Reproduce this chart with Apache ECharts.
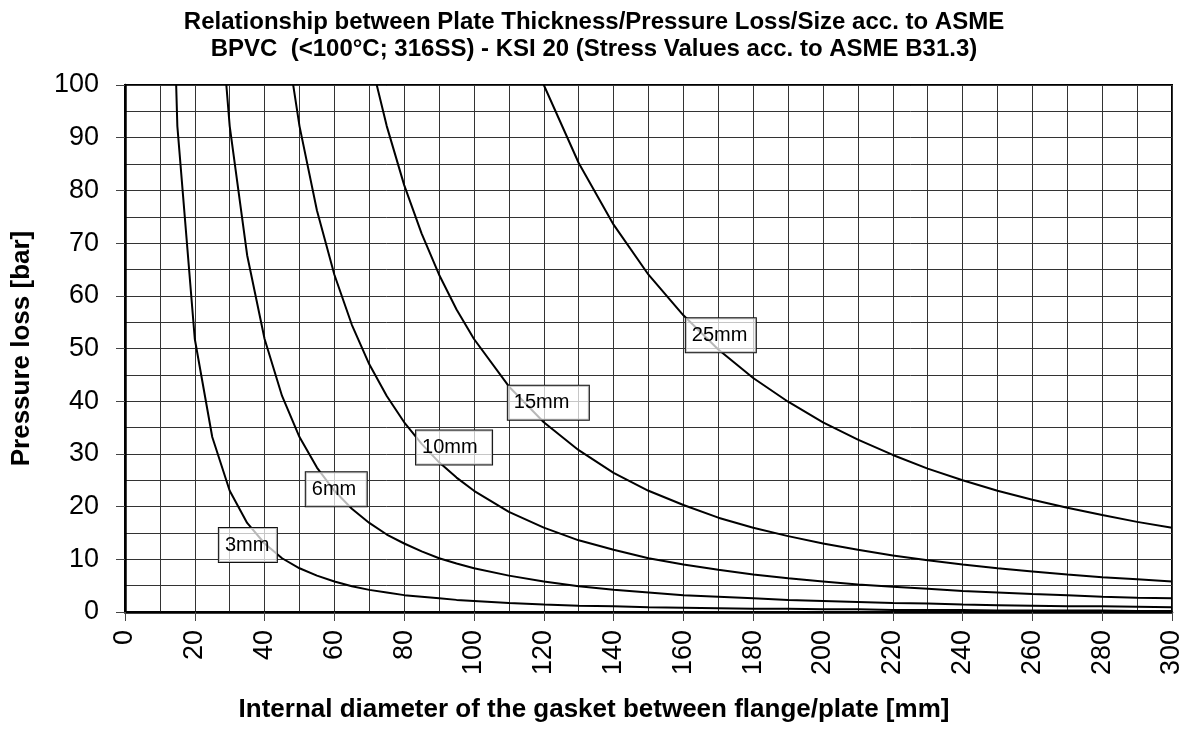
<!DOCTYPE html>
<html>
<head>
<meta charset="utf-8">
<script src="https://cdn.jsdelivr.net/npm/echarts@6/dist/echarts.min.js"></script>
<style>
  html, body { margin: 0; padding: 0; background: #fff; }
  #chart1 { width: 1188px; height: 729px; }
</style>
</head>
<body>
<div id="chart1"></div>
<script>
// internal diameter [mm]
var diameters = [5, 10, 15, 20, 25, 30, 35, 40, 45, 50, 55, 60, 65, 70, 75, 80, 85, 90, 95, 100,
    110, 120, 130, 140, 150, 160, 170, 180, 190, 200, 210, 220, 230, 240, 250, 260, 270, 280, 290, 300];

// pressure loss [bar] per plate thickness
var p3mm = [null, 207.4, 92.2, 51.8, 33.2, 23.0, 16.9, 13.0, 10.2, 8.3, 6.9, 5.8, 4.9, 4.2, 3.7, 3.2, 2.9, 2.6, 2.3, 2.1,
    1.7, 1.4, 1.2, 1.1, 0.9, 0.8, 0.7, 0.6, 0.6, 0.5, 0.5, 0.4, 0.4, 0.4, 0.3, 0.3, 0.3, 0.3, 0.2, 0.2];
var p6mm = [null, null, null, null, 132.7, 92.2, 67.7, 51.8, 41.0, 33.2, 27.4, 23.0, 19.6, 16.9, 14.7, 13.0, 11.5, 10.2, 9.2, 8.3,
    6.9, 5.8, 4.9, 4.2, 3.7, 3.2, 2.9, 2.6, 2.3, 2.1, 1.9, 1.7, 1.6, 1.4, 1.3, 1.2, 1.1, 1.1, 1.0, 0.9];
var p10mm = [null, null, null, null, null, null, null, 144.0, 113.8, 92.2, 76.2, 64.0, 54.5, 47.0, 41.0, 36.0, 31.9, 28.4, 25.5, 23.0,
    19.0, 16.0, 13.6, 11.8, 10.2, 9.0, 8.0, 7.1, 6.4, 5.8, 5.2, 4.8, 4.4, 4.0, 3.7, 3.4, 3.2, 2.9, 2.7, 2.6];
var p15mm = [null, null, null, null, null, null, null, null, null, null, null, null, 122.7, 105.8, 92.2, 81.0, 71.8, 64.0, 57.4, 51.8,
    42.8, 36.0, 30.7, 26.4, 23.0, 20.3, 17.9, 16.0, 14.4, 13.0, 11.8, 10.7, 9.8, 9.0, 8.3, 7.7, 7.1, 6.6, 6.2, 5.8];
var p25mm = [null, null, null, null, null, null, null, null, null, null, null, null, null, null, null, null, null, null, null, null,
    119.0, 100.0, 85.2, 73.5, 64.0, 56.3, 49.8, 44.4, 39.9, 36.0, 32.7, 29.8, 27.2, 25.0, 23.0, 21.3, 19.8, 18.4, 17.1, 16.0];

var seriesNames = ['3mm', '6mm', '10mm', '15mm', '25mm'];
var seriesValues = [p3mm, p6mm, p10mm, p15mm, p25mm];

// label anchors (left edge of box, middle)
var labelX = [26.9, 51.8, 83.4, 109.7, 160.7];
var labelY = [12.7, 23.3, 31.2, 39.7, 52.5];

var xTicks = { min: 0, max: 300, step: 20 };
var yTicks = { min: 0, max: 100, step: 10 };

var font = "'Liberation Sans', Arial, sans-serif";
// inner width of the label boxes
var boxWidth = { '3mm': 52, '6mm': 55, '10mm': 70, '15mm': 75, '25mm': 64 };

function pairs(xs, ys) {
    var out = [];
    for (var i = 0; i < xs.length; i++) {
        if (ys[i] !== null) out.push([xs[i], ys[i]]);
    }
    return out;
}

var chart = echarts.init(document.getElementById('chart1'));

var series = [];
for (var i = 0; i < seriesNames.length; i++) {
    series.push({
        type: 'line',
        name: seriesNames[i],
        data: pairs(diameters, seriesValues[i]),
        showSymbol: false,
        clip: true,
        z: 3,
        lineStyle: { color: '#000', width: 2 }
    });
}

var labelData = [];
for (var j = 0; j < seriesNames.length; j++) {
    labelData.push({
        value: [labelX[j], labelY[j]],
        name: seriesNames[j],
        label: { width: boxWidth[seriesNames[j]] }
    });
}
series.push({
    type: 'scatter',
    name: 'labels',
    data: labelData,
    symbolSize: 0,
    z: 5,
    itemStyle: { opacity: 1 },
    label: {
        show: true,
        position: 'inside',
        align: 'left',
        formatter: '{b}',
        fontFamily: font,
        fontSize: 20,
        color: '#000',
        lineHeight: 22,
        backgroundColor: 'rgba(255,255,255,0.72)',
        borderColor: '#111',
        borderWidth: 1,
        padding: [6, 0, 6, 6]
    }
});

var option = {
    animation: false,
    backgroundColor: '#fff',
    title: [{
        text: 'Relationship between Plate Thickness/Pressure Loss/Size acc. to ASME\nBPVC  (<100°C; 316SS) - KSI 20 (Stress Values acc. to ASME B31.3)',
        left: 'center',
        top: 4,
        textStyle: { fontFamily: font, fontSize: 24, fontWeight: 'bold', color: '#000', lineHeight: 27 }
    }, {
        text: 'Internal diameter of the gasket between flange/plate [mm]',
        left: 'center',
        top: 692,
        textStyle: { fontFamily: font, fontSize: 26, fontWeight: 'bold', color: '#000' }
    }],
    grid: {
        left: 125, right: 16, top: 85, bottom: 117,
        outerBoundsMode: 'none',
        containLabel: false,
        show: true,
        borderColor: '#000',
        borderWidth: 2
    },
    xAxis: {
        type: 'value',
        min: xTicks.min,
        max: xTicks.max,
        interval: xTicks.step,
        axisLine: { show: true, lineStyle: { color: '#000', width: 2.5 } },
        axisTick: { show: true, length: 9, lineStyle: { color: '#444', width: 1 } },
        axisLabel: { rotate: 90, margin: 18, fontFamily: font, fontSize: 27, color: '#000' },
        splitLine: { show: true, lineStyle: { color: '#333', width: 1 } },
        minorTick: { show: false, splitNumber: 2 },
        minorSplitLine: { show: true, lineStyle: { color: '#333', width: 1 } }
    },
    yAxis: {
        type: 'value',
        min: yTicks.min,
        max: yTicks.max,
        interval: yTicks.step,
        name: 'Pressure loss [bar]',
        nameLocation: 'middle',
        nameGap: 90,
        nameTextStyle: { fontFamily: font, fontSize: 26, fontWeight: 'bold', color: '#000' },
        axisLine: { show: true, lineStyle: { color: '#000', width: 2.5 } },
        axisTick: { show: true, length: 9, lineStyle: { color: '#444', width: 1 } },
        axisLabel: { margin: 26, fontFamily: font, fontSize: 27, color: '#000' },
        splitLine: { show: true, lineStyle: { color: '#333', width: 1 } },
        minorTick: { show: false, splitNumber: 2 },
        minorSplitLine: { show: true, lineStyle: { color: '#333', width: 1 } }
    },
    series: series
};

chart.setOption(option, true);
</script>
</body>
</html>
